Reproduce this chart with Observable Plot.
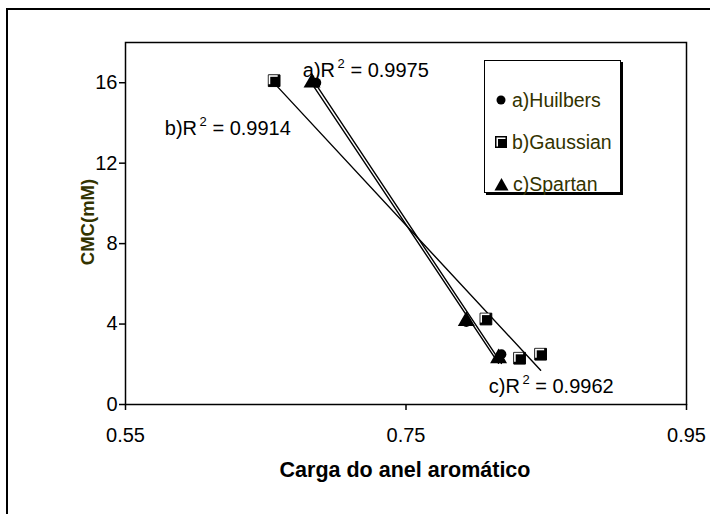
<!DOCTYPE html>
<html><head><meta charset="utf-8">
<script src="https://cdn.jsdelivr.net/npm/d3@7"></script>
<script src="https://cdn.jsdelivr.net/npm/@observablehq/plot@0.6"></script>
<style>
body{margin:0;background:#fff;}
#wrap{position:relative;width:710px;height:514px;overflow:hidden;font-family:"Liberation Sans",Arial,sans-serif;background:#fff;}
#border{position:absolute;left:6px;top:8px;width:730px;height:530px;border-top:2px solid #000;border-left:2px solid #000;}
#chart{position:absolute;left:0;top:0;}
.atitle{position:absolute;font-weight:bold;white-space:nowrap;}
#ytitle{left:88px;top:222px;font-size:18.5px;transform:translate(-50%,-50%) rotate(-90deg);color:#333300;}
#xtitle{left:405px;top:470px;font-size:21.5px;transform:translate(-50%,-50%);color:#000;}
#legend{position:absolute;left:484px;top:60px;width:135px;height:131px;border:1.5px solid #000;box-shadow:2px 2px 0 #000;background:#fff;}
.lrow{position:absolute;left:9px;height:22px;display:flex;align-items:center;font-size:19.5px;color:#333300;}
.lrow svg{margin-right:4px;}
</style></head>
<body>
<div id="wrap">
  <div id="border"></div>
  <div id="chart"></div>
  <div id="ytitle" class="atitle"></div>
  <div id="xtitle" class="atitle"></div>
  <div id="legend"></div>
</div>
<script>
// ---- data ----
const seriesNames = ["a)Huilbers", "b)Gaussian", "c)Spartan"];
const xHuilbers = [0.686, 0.793, 0.818];
const yHuilbers = [16.0, 4.1, 2.5];
const xGaussian = [0.656, 0.807, 0.831, 0.846];
const yGaussian = [16.1, 4.25, 2.3, 2.5];
const xSpartan = [0.683, 0.793, 0.816];
const ySpartan = [16.0, 4.15, 2.3];
const xTicks = [0.55, 0.75, 0.95];
const yTicks = [0, 4, 8, 12, 16];
const annLabels = ["a)R² = 0.9975", "b)R² = 0.9914", "c)R² = 0.9962"];
const annX = [0.6764, 0.578, 0.809];
const annY = [16.6, 13.7, 0.9];
const xTitle = "Carga do anel aromático";
const yTitle = "CMC(mM)";

const toRows = (xs, ys, s) => xs.map((x, i) => ({x, y: ys[i], s}));
const huil = toRows(xHuilbers, yHuilbers, seriesNames[0]);
const gaus = toRows(xGaussian, yGaussian, seriesNames[1]);
const spar = toRows(xSpartan, ySpartan, seriesNames[2]);
const ann = annLabels.map((t, i) => ({t, x: annX[i], y: annY[i]}));

const reg = (data) => Plot.linearRegressionY(data, {x: "x", y: "y", ci: 0, stroke: "black", strokeWidth: 1.4});

const chart = Plot.plot({
  width: 710, height: 514,
  marginLeft: 125, marginRight: 24, marginTop: 42, marginBottom: 110,
  style: {fontFamily: "Liberation Sans, Arial, sans-serif", fontSize: "20px", color: "#000", background: "transparent"},
  x: {domain: [0.55, 0.95]},
  y: {domain: [0, 18]},
  marks: [
    Plot.frame({stroke: "black", strokeWidth: 1.5}),
    Plot.axisX({ticks: xTicks, tickFormat: d3.format(".2f"), tickSize: 6, tickPadding: 17, fontSize: 20, label: null, strokeWidth: 1.5}),
    Plot.axisY({ticks: yTicks, tickSize: 6, tickPadding: 2, fontSize: 20, label: null, strokeWidth: 1.5}),
    reg(gaus), reg(huil), reg(spar),
    // Gaussian: shaded square markers
    Plot.dot(gaus, {x: "x", y: "y", symbol: "square", r: 6.6, fill: "black", stroke: "black", strokeWidth: 1}),
    Plot.dot(gaus, {x: "x", y: "y", symbol: "square", r: 5.1, fill: "white", dx: -1, dy: -1}),
    Plot.dot(gaus, {x: "x", y: "y", symbol: "square", r: 5.1, fill: "black", dx: 0.6, dy: 0.6}),
    Plot.dot(huil, {x: "x", y: "y", symbol: "circle", r: 5, fill: "black"}),
    Plot.dot(spar, {x: "x", y: "y", symbol: "triangle", r: 6.3, fill: "black"}),
    Plot.text(ann, {x: "x", y: "y", text: "t", textAnchor: "start", fontSize: 20, fill: "black"})
  ]
});
// superscript "2" in the R² annotations
chart.querySelectorAll("text").forEach(el => {
  const s = el.textContent;
  if (!s.includes("²") || el.children.length) return;
  const [pre, post] = s.split("²");
  el.textContent = "";
  const ns = "http://www.w3.org/2000/svg";
  const t1 = document.createElementNS(ns, "tspan"); t1.textContent = pre;
  const t2 = document.createElementNS(ns, "tspan"); t2.textContent = "\u2009" + "2";
  t2.setAttribute("font-size", "13"); t2.setAttribute("dy", "-9");
  const t3 = document.createElementNS(ns, "tspan"); t3.textContent = post;
  t3.setAttribute("dy", "9");
  el.append(t1, t2, t3);
});
document.getElementById("chart").appendChild(chart);
document.getElementById("ytitle").textContent = yTitle;
document.getElementById("xtitle").textContent = xTitle;

// legend
const markers = [
  '<svg width="14" height="14"><circle cx="7" cy="7" r="4.5" fill="black"/></svg>',
  '<svg width="14" height="14"><rect x="1" y="1" width="12" height="12" fill="black"/><rect x="2.5" y="2.5" width="9" height="9" fill="white"/><rect x="4" y="4" width="8" height="8" fill="black"/></svg>',
  '<svg width="15" height="14"><path d="M7.5 1 L14.5 13.5 L0.5 13.5 Z" fill="black"/></svg>'
];
const legend = document.getElementById("legend");
const rowCenters = [39, 81, 123];
seriesNames.forEach((n, i) => {
  const row = document.createElement("div");
  row.className = "lrow";
  row.style.top = (rowCenters[i] - 11) + "px";
  row.innerHTML = markers[i] + "<span></span>";
  row.querySelector("span").textContent = n;
  legend.appendChild(row);
});
</script>
</body></html>
